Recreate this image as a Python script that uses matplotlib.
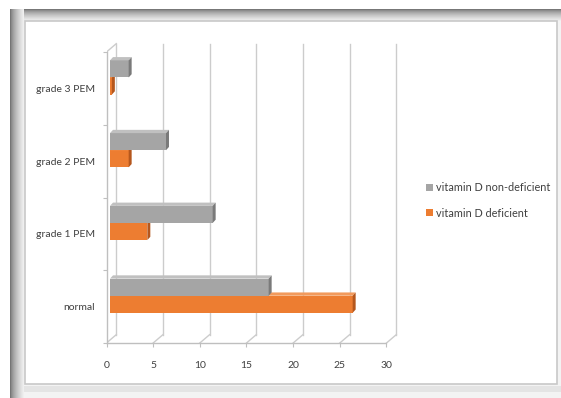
import numpy as np
import matplotlib
matplotlib.use("Agg")
import matplotlib.pyplot as plt
from matplotlib.patches import Polygon, Rectangle, Patch

categories = ["normal", "grade 1 PEM", "grade 2 PEM", "grade 3 PEM"]
non_deficient = [17, 11, 6, 2]
deficient = [26, 4, 2, 0.2]
x_ticks = [0, 5, 10, 15, 20, 25, 30]
series_names = ["vitamin D non-deficient", "vitamin D deficient"]

plt.rcParams["font.family"] = ["Lato", "DejaVu Sans"]

W, H = 561, 398
fig = plt.figure(figsize=(W / 100, H / 100), dpi=100)
fig.patch.set_facecolor("white")

# backdrop: grey panel with a shaded top/left edge and a white inner card
bg = fig.add_axes([0, 0, 1, 1])
bg.add_patch(Rectangle((10, 9), W - 10, H - 9, fc="#f3f3f3", ec="none", zorder=1))
bg.add_patch(Rectangle((10, 386), W - 10, 6, fc="#e4e4e4", ec="none", zorder=1))
ramp = 0.40 + 0.55 * np.linspace(0, 1, 64) ** 0.6
rgb = np.stack([ramp, ramp, ramp], axis=-1)
bg.imshow(rgb[:, None, :], extent=(10, W, 21, 9), origin="upper", aspect="auto",
          interpolation="bilinear", zorder=2)
bg.imshow(rgb[None, :, :], extent=(10, 24, H, 9), origin="upper", aspect="auto",
          interpolation="bilinear", zorder=2)
bg.add_patch(Rectangle((25, 21), 532, 363, fc="white", ec="#c8c8c8", lw=1.2, zorder=3))
bg.set_xlim(0, W)
bg.set_ylim(H, 0)
bg.axis("off")

ax = fig.add_axes([106.5 / W, (H - 343) / H, 294 / W, 305.55 / H])
ax.patch.set_alpha(0)
ax.set_xlim(0, 31.5)
ax.set_ylim(-0.5, 3.7)

grid_c = "#cccccc"
D, Dy = 1.05, 0.115  # depth offset of the back wall

for t in x_ticks:
    ax.plot([t + D, t + D], [-0.5 + Dy, 3.5 + Dy], color=grid_c, lw=1, zorder=1)
    ax.plot([t, t + D], [-0.5, -0.5 + Dy], color=grid_c, lw=1, zorder=1)
ax.plot([0, D], [3.5, 3.5 + Dy], color=grid_c, lw=1, zorder=1)


def bar3d(y0, y1, v, front, top, side):
    x0 = 0.375
    d, dy = 0.32, 0.045
    ax.add_patch(Rectangle((x0, y0), v, y1 - y0, fc=front, ec="none", zorder=3))
    ax.add_patch(Polygon([(x0, y1), (x0 + v, y1), (x0 + v + d, y1 + dy), (x0 + d, y1 + dy)],
                         closed=True, fc=top, ec="none", zorder=3))
    ax.add_patch(Polygon([(x0 + v, y0), (x0 + v, y1), (x0 + v + d, y1 + dy), (x0 + v + d, y0 + dy)],
                         closed=True, fc=side, ec="none", zorder=3))


h = 0.235
for i in range(len(categories)):
    c = i + 0.15
    bar3d(c - h, c, deficient[i], "#ed7d31", "#f29a5c", "#b5571d")
    bar3d(c, c + h, non_deficient[i], "#a5a5a5", "#c0c0c0", "#7a7a7a")

for s in ["top", "right"]:
    ax.spines[s].set_visible(False)
ax.spines["left"].set_bounds(-0.5, 3.5)
ax.spines["bottom"].set_bounds(0, 30)
for s in ["left", "bottom"]:
    ax.spines[s].set_color("#bfbfbf")
    ax.spines[s].set_linewidth(1)

text_c = "#404040"
ax.set_xticks(x_ticks)
ax.set_xticklabels([str(t) for t in x_ticks])
ax.tick_params(axis="x", length=3, color="#bfbfbf", labelcolor=text_c,
               labelsize=7.5, pad=10)
ax.set_yticks([-0.5, 0.5, 1.5, 2.5, 3.5])
ax.set_yticklabels([])
ax.tick_params(axis="y", length=3, color="#bfbfbf")
ax.set_yticks(range(len(categories)), minor=True)
ax.set_yticklabels(categories, minor=True)
ax.tick_params(axis="y", which="minor", length=0, labelcolor=text_c,
               labelsize=7.5, pad=8.3)

handles = [Patch(fc="#a5a5a5", ec="none"), Patch(fc="#ed7d31", ec="none")]
fig.legend(handles, series_names, loc="upper left", bbox_to_anchor=(426 / W, 1 - 182 / H),
           frameon=False, fontsize=7.8, handlelength=0.6, handleheight=0.6,
           handletextpad=0.3, labelspacing=1.35, labelcolor=text_c,
           borderaxespad=0, borderpad=0)

fig.savefig("out.png", dpi=100)
